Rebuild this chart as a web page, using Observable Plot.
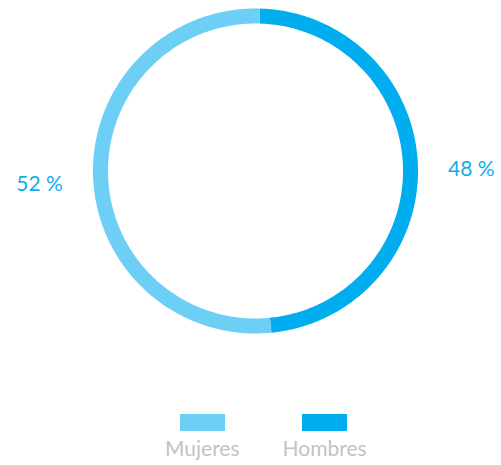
<!DOCTYPE html>
<html><head><meta charset="utf-8">
<script src="https://cdn.jsdelivr.net/npm/d3@7"></script>
<script src="https://cdn.jsdelivr.net/npm/@observablehq/plot@0.6"></script>
<style>
body{margin:0;background:#fff;font-family:Lato,"Open Sans",sans-serif}
#legend{display:flex;gap:43px;margin-left:165px;margin-top:14px}
.item{display:flex;flex-direction:column;align-items:center}
.sw{width:45px;height:17px}
.lab{font-size:21px;line-height:24px;color:#c3c3c3;margin-top:5px}
</style>
</head><body><div id="chart"></div><div id="legend"></div>
<script>
// Data
const categories = ["Hombres", "Mujeres"];
const values = [48, 52];
const labels = ["48 %", "52 %"];
const colors = ["#00aeef", "#6dcff6"];
const legendOrder = ["Mujeres", "Hombres"];

// Layout
const W = 501, H = 400, cx = 255, cy = 170.5, rMid = 155, ringW = 15, startDeg = 1.6, rLab = 216;
const pie = d3.pie().sort(null)
  .startAngle(startDeg * Math.PI / 180)
  .endAngle((startDeg + 360) * Math.PI / 180);
const arcs = pie(values);
const N = 180;
const ringPts = arcs.flatMap((a, i) => d3.range(0, N + 1).map(k => {
  const t = a.startAngle + (a.endAngle - a.startAngle) * k / N;
  return {cat: categories[i], x: cx + rMid * Math.sin(t), y: cy - rMid * Math.cos(t)};
}));
const labelRows = arcs.map((a, i) => {
  const m = (a.startAngle + a.endAngle) / 2;
  return {label: labels[i], x: cx + rLab * Math.sin(m), y: cy - rLab * Math.cos(m)};
});

const chart = Plot.plot({
  width: W, height: H, margin: 0,
  x: {domain: [0, W], range: [0, W], axis: null},
  y: {domain: [0, H], range: [0, H], axis: null},
  color: {domain: categories, range: colors},
  style: {background: "#fff"},
  marks: [
    Plot.line(ringPts, {x: "x", y: "y", z: "cat", stroke: "cat", strokeWidth: ringW, strokeLinecap: "butt", strokeLinejoin: "round"}),
    Plot.text(labelRows, {x: "x", y: "y", dy: 6, text: "label", fill: "#12ade9", fontSize: 21, fontFamily: "Lato", textAnchor: "middle"})
  ]
});
document.getElementById("chart").append(chart);

const leg = document.getElementById("legend");
legendOrder.forEach(c => {
  const it = document.createElement("div"); it.className = "item";
  const sw = document.createElement("div"); sw.className = "sw";
  sw.style.background = colors[categories.indexOf(c)];
  const lb = document.createElement("div"); lb.className = "lab"; lb.textContent = c;
  it.append(sw, lb); leg.append(it);
});
</script>
</body></html>
